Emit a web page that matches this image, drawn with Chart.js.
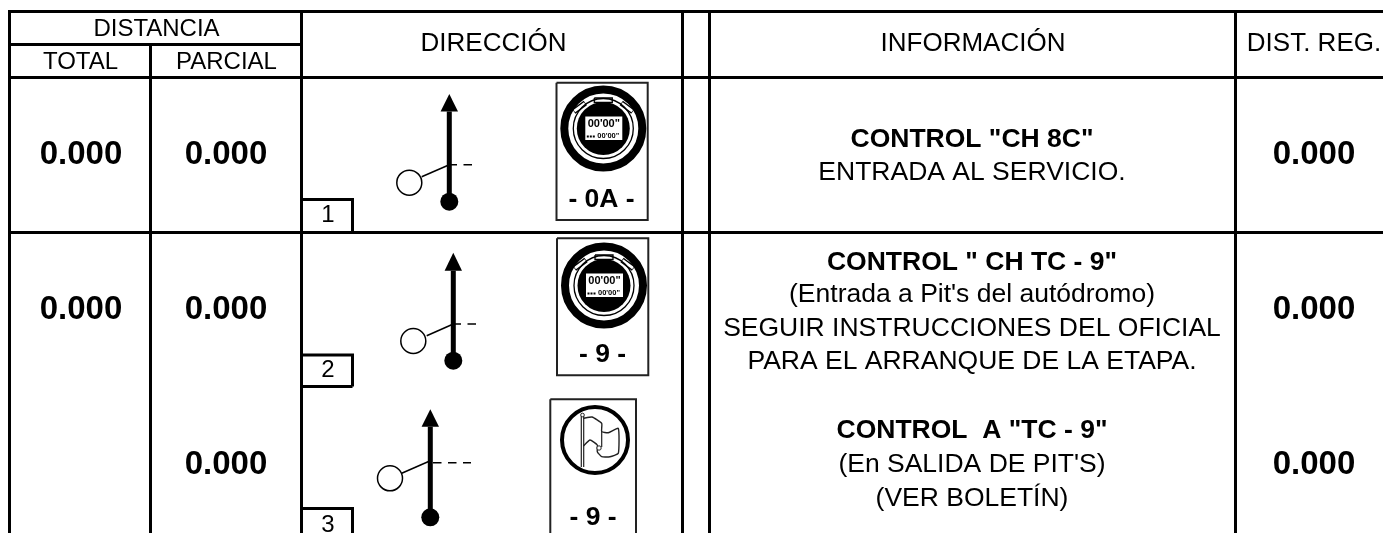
<!DOCTYPE html>
<html>
<head>
<meta charset="utf-8">
<title>Road book</title>
<script src="https://cdn.jsdelivr.net/npm/chart.js@4"></script>
<style>
html, body { margin: 0; padding: 0; background: #fff; }
canvas { display: block; }
</style>
</head>
<body>
<canvas id="roadbook" width="1383" height="533"></canvas>
<script>
// Table content
var stepNumbers = ['1', '2', '3'];
var totals = ['0.000', '0.000', ''];
var partials = ['0.000', '0.000', '0.000'];
var regDistances = ['0.000', '0.000', '0.000'];
var controlLabels = ['- 0A -', '- 9 -', '- 9 -'];
var infoTitles = ['CONTROL "CH 8C"', 'CONTROL " CH TC - 9"', 'CONTROL  A "TC - 9"'];
var infoDetails = [
    ['ENTRADA AL SERVICIO.'],
    ["(Entrada a Pit's del autódromo)", 'SEGUIR INSTRUCCIONES DEL OFICIAL', 'PARA EL ARRANQUE DE LA ETAPA.'],
    ["(En SALIDA DE PIT'S)", '(VER BOLETÍN)']
];
var watchClock = "00'00\"";

// Sheet layout, in the units of the hidden axes
var W = 1383, H = 533;
var colLeft = 9.5, colTotal = 150.5, colDir = 301.5, colGapA = 682.5, colGapB = 709.5, colReg = 1235.5;
var rowTop = 11.5, rowHeadMid = 44.5, rowHead = 77.5, rowOne = 232.5;
var tulips = [
    { x: 449.3, tip: 94, base: 111.5, dot: 201.7, cx: 409.3, cy: 182.7, fromX: 421.7, fromY: 176.7, toY: 164.7, dashY: 164.7, dashFrom: 448.5, dashTo: 472 },
    { x: 453.3, tip: 252.7, base: 270.7, dot: 360.7, cx: 413.3, cy: 341, fromX: 426.7, fromY: 335.7, toY: 324, dashY: 324, dashFrom: 452.5, dashTo: 476 },
    { x: 430.3, tip: 409.3, base: 426.7, dot: 517.3, cx: 390, cy: 478.3, fromX: 401.7, fromY: 473.3, toY: 460.7, dashY: 462.7, dashFrom: 433, dashTo: 471 }
];
var frames = [
    { l: 556.5, r: 647.7, t: 82.7, b: 220 },
    { l: 557, r: 648.3, t: 238.3, b: 375.3 },
    { l: 550.3, r: 636, t: 399.3, b: 536 }
];
var watches = [{ x: 603.3, y: 128.5 }, { x: 604, y: 285.5 }];
var flagCircle = { x: 595, y: 440 };
var flagOutline = [
    [583.3, 418.3], [592, 417], [601.7, 423.3], [601.7, 431.7], [608.3, 432.7], [618.3, 428.3], [618.3, 453.3],
    [610, 456.7], [601.7, 456.7], [597.3, 451.7], [597.3, 445], [590, 440], [583.3, 446]
];
var numberBoxes = [
    { t: 199.5, b: rowOne, y: 215 },
    { t: 355, b: 386.5, y: 370.5 },
    { t: 508.5, b: 536, y: 525 }
];
var rowMiddles = [155, 310, 465];
var infoTitleY = [139.5, 262.5, 430.5];
var infoDetailY = [[172.5], [294.5, 328.5, 361.5], [464.5, 498.5]];
var labelY = [199.5, 355, 517.5];
var labelX = [601.5, 602.5, 593];

var datasets = [];

function addLine(points, width, color, extra) {
    var ds = {
        data: points.map(function (p) { return { x: p[0], y: p[1] }; }),
        showLine: true,
        borderColor: color,
        borderWidth: width,
        pointRadius: 0,
        tension: 0,
        fill: false
    };
    for (var k in extra) ds[k] = extra[k];
    datasets.push(ds);
}

function addDot(x, y, radius, fill, border, borderWidth) {
    datasets.push({
        data: [{ x: x, y: y }],
        showLine: false,
        pointRadius: radius,
        pointBackgroundColor: fill,
        pointBorderColor: border,
        pointBorderWidth: borderWidth
    });
}

function addPolygon(points, fill) {
    addLine(points.concat([points[0]]), 0, fill, { fill: 'shape', backgroundColor: fill });
}

// Grid
[colLeft, colDir, colGapA, colGapB, colReg].forEach(function (x) {
    addLine([[x, rowTop - 1.5], [x, H]], 3, '#000');
});
addLine([[colTotal, rowHeadMid], [colTotal, H]], 3, '#000');
addLine([[colLeft, rowTop], [W, rowTop]], 3, '#000');
addLine([[colLeft, rowHeadMid], [colDir, rowHeadMid]], 3, '#000');
addLine([[colLeft, rowHead], [W, rowHead]], 3, '#000');
addLine([[colLeft, rowOne], [W, rowOne]], 3, '#000');

// Control frames
frames.forEach(function (f) {
    addLine([[f.l, f.t], [f.r, f.t], [f.r, f.b], [f.l, f.b], [f.l, f.t]], 2, '#222');
});

// Tulip drawings
tulips.forEach(function (t) {
    addLine([[t.dashFrom, t.dashY], [t.dashTo, t.dashY]], 1.5, '#000', { borderDash: [8.5, 6.5] });
    addLine([[t.fromX, t.fromY], [t.x, t.toY]], 1.5, '#000');
    addLine([[t.x, t.base], [t.x, t.dot]], 5, '#000');
    addPolygon([[t.x, t.tip], [t.x + 8.7, t.base], [t.x - 8.7, t.base]], '#000');
    addDot(t.x, t.dot, 9, '#000', '#000', 0);
    addDot(t.cx, t.cy, 12.5, '#fff', '#000', 1.5);
});

// Stopwatch icons
watches.forEach(function (w) {
    [-1, 1].forEach(function (side) {
        addLine([[w.x + side * 29.5, w.y - 17], [w.x + side * 18, w.y - 25.5]], 5.5, '#000');
        addLine([[w.x + side * 29, w.y - 17.4], [w.x + side * 18.5, w.y - 25.1]], 3, '#fff');
    });
    addLine([[w.x - 9, w.y - 30.5], [w.x + 9, w.y - 30.5], [w.x + 9, w.y - 26], [w.x - 9, w.y - 26], [w.x - 9, w.y - 30.5]], 1.3, '#000');
    addDot(w.x, w.y, 39, 'rgba(255,255,255,0)', '#000', 8);
    addDot(w.x, w.y, 30, 'rgba(255,255,255,0)', '#000', 1.3);
    addDot(w.x, w.y, 26.5, '#000', '#000', 0);
    addPolygon([[w.x - 18, w.y - 12], [w.x + 19, w.y - 12], [w.x + 19, w.y + 11.5], [w.x - 18, w.y + 11.5]], '#fff');
    addLine([[w.x - 16.5, w.y + 8], [w.x - 8, w.y + 8]], 2, '#000', { borderDash: [2, 1] });
});

// Flag icon
addDot(flagCircle.x, flagCircle.y, 33, 'rgba(255,255,255,0)', '#000', 4);
addLine([[581.3, 416], [581.3, 467]], 1.2, '#222');
addLine([[583.7, 416], [583.7, 467]], 1.2, '#222');
addDot(582.5, 415, 1.8, '#fff', '#222', 1);
addLine(flagOutline, 1.4, '#222', { tension: 0.15 });
addLine([[601.7, 431.7], [601.7, 447]], 1.2, '#222');
addDot(599, 448, 2.2, '#fff', '#222', 1);

// Step number boxes
numberBoxes.forEach(function (b) {
    addLine([[colDir, b.t], [352.5, b.t], [352.5, b.b]], 3, '#000');
    addLine([[colDir, b.b], [352.5, b.b]], 3, '#000');
});

// First dataset paints last in Chart.js, the list above is in paint order
datasets.reverse();

// All table text goes through the same hidden scales
var texts = [];
function addText(str, x, y, size, bold) {
    if (str) texts.push({ str: str, x: x, y: y, size: size, bold: bold });
}
addText('DISTANCIA', 156.5, 29, 24);
addText('TOTAL', 80.5, 62, 24);
addText('PARCIAL', 226.5, 62, 24);
addText('DIRECCIÓN', 493.5, 44, 26);
addText('INFORMACIÓN', 973, 44, 26);
addText('DIST. REG.', 1314, 44, 26);
for (var i = 0; i < stepNumbers.length; i++) {
    addText(stepNumbers[i], 328, numberBoxes[i].y, 24);
    addText(totals[i], 81, rowMiddles[i], 33, true);
    addText(partials[i], 226, rowMiddles[i], 33, true);
    addText(regDistances[i], 1314, rowMiddles[i], 33, true);
    addText(controlLabels[i], labelX[i], labelY[i], 26.5, true);
    addText(infoTitles[i], 972, infoTitleY[i], 26.5, true);
    for (var j = 0; j < infoDetails[i].length; j++) {
        addText(infoDetails[i][j], 972, infoDetailY[i][j], 26.5);
    }
}
watches.forEach(function (w) {
    addText(watchClock, w.x + 0.5, w.y - 4.5, 11, true);
    addText(watchClock, w.x + 5, w.y + 7.5, 7.5, true);
});

var tablePlugin = {
    id: 'tableText',
    afterDatasetsDraw: function (chart) {
        var c = chart.ctx;
        c.save();
        c.fillStyle = '#000';
        c.textAlign = 'center';
        c.textBaseline = 'middle';
        texts.forEach(function (t) {
            c.font = (t.bold ? 'bold ' : '') + t.size + 'px "Liberation Sans", Arial, sans-serif';
            c.fillText(t.str, chart.scales.x.getPixelForValue(t.x), chart.scales.y.getPixelForValue(t.y));
        });
        c.restore();
    }
};

var ctx = document.getElementById('roadbook').getContext('2d');
var roadbook = new Chart(ctx, {
    type: 'scatter',
    data: { datasets: datasets },
    plugins: [tablePlugin],
    options: {
        responsive: false,
        animation: false,
        events: [],
        layout: { padding: 0, autoPadding: false },
        plugins: {
            legend: { display: false },
            tooltip: { enabled: false }
        },
        scales: {
            x: { type: 'linear', display: false, min: 0, max: W },
            y: { type: 'linear', display: false, min: 0, max: H, reverse: true }
        }
    }
});
</script>
</body>
</html>
